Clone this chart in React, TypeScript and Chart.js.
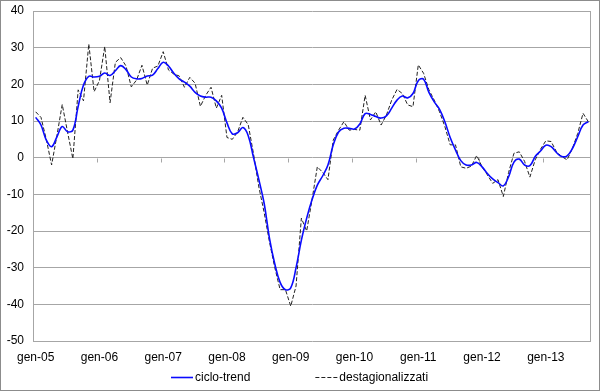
import React, { useEffect, useRef } from "react";
import { Chart, registerables } from "chart.js";

Chart.register(...registerables);

const monthNames = ["gen", "feb", "mar", "apr", "mag", "giu", "lug", "ago", "set", "ott", "nov", "dic"];
const years = ["05", "06", "07", "08", "09", "10", "11", "12", "13"];
const lastMonthOfLastYear = 8; // set-13

const categories: string[] = [];
years.forEach((y, yi) => {
  monthNames.forEach((m, mi) => {
    if (yi < years.length - 1 || mi <= lastMonthOfLastYear) categories.push(`${m}-${y}`);
  });
});

const cicloTrend = [
  11, 8.9, 4.8, 3, 5.7, 8.5, 7.1, 7.5, 14, 19.8,
  22.2, 22, 22.2, 23.1, 22.4, 23.7, 25.1, 24, 22, 21.5,
  21.6, 22.3, 22.5, 24.3, 26, 25, 23, 21.5, 20.6, 19.5,
  17.8, 16.8, 16.5, 16.5, 15.5, 13.5, 9.5, 6.5, 6.8, 8.2,
  6, 0, -6, -12.5, -22, -29, -34, -36, -35.5, -30,
  -22.5, -16.5, -11.5, -7.5, -5, -2, 3.5, 7, 8, 8,
  7.8, 9.2, 12, 11.8, 11.2, 10.8, 11.4, 13.5, 15.7, 16.8,
  16.3, 17.5, 21, 21.4, 17.8, 15.2, 13.2, 9.8, 5.5, 2.1,
  -0.8, -2, -2, -1.3, -2.5, -4.3, -5.8, -6.8, -7.7, -5.2,
  -1.2, -0.4, -2, -2.2, 0.3, 1.8, 3.4, 3, 1.4, 0.3,
  0.5, 2.5, 5.7, 8.9, 9.8,
];

const destagionalizzati = [
  12.5, 11, 5, -2, 6, 14.5, 7, -0.3, 18.5, 15.5,
  31, 18, 21, 30.3, 15, 26, 27.3, 25, 19.3, 21.2,
  25.2, 19.8, 24.4, 25, 28.9, 23.9, 22.8, 22.3, 19.2, 21.9,
  20.3, 14, 17, 19.2, 13.5, 17, 5.5, 5, 7, 11,
  9, 1, -8, -15, -23, -30, -36, -36, -40.5, -35,
  -16.5, -20, -11.5, -2.5, -4, -6, 4.8, 7.5, 9.8, 7.5,
  7.7, 7.5, 17, 10.3, 12.5, 8.9, 11.6, 15.7, 18.6, 17.5,
  14.4, 13.9, 25.3, 23, 18.5, 15.7, 12.5, 8.5, 3.5, 3.5,
  -2.5, -2.9, -2.3, 0.6, -2.5, -4.7, -7, -6, -10.6, -4,
  1.2, 1.6, -1, -5.3, -0.6, 2.3, 4.6, 4.4, 1.6, 0.3,
  -0.6, 2.5, 6.6, 12.1, 9.8,
];

const seriesNames = ["ciclo-trend", "destagionalizzati"];
const yMin = -50;
const yMax = 40;
const yStep = 10;
const tickEvery = 12;

const FONT = '"Liberation Sans", Arial, sans-serif';
const GRID = "#a6a6a6";
const BLUE = "#0a0aff";
const DASH_COLOR = "#222222";
const DASH = [4, 2];

const framePlugin = {
  id: "excelFrame",
  beforeDraw(chart: any) {
    const { ctx, width, height } = chart;
    ctx.save();
    ctx.fillStyle = "#ffffff";
    ctx.fillRect(0, 0, width, height);
    ctx.strokeStyle = "#8c8c8c";
    ctx.lineWidth = 1;
    ctx.strokeRect(0.5, 0.5, width - 1, height - 2);
    ctx.restore();
  },
  beforeDatasetsDraw(chart: any) {
    const { ctx, chartArea, scales } = chart;
    const xs = scales.x;
    const ys = scales.y;
    ctx.save();
    ctx.strokeStyle = GRID;
    ctx.lineWidth = 1;
    ctx.beginPath();
    const r = Math.round(chartArea.right) - 0.5;
    ctx.moveTo(r, chartArea.top);
    ctx.lineTo(r, chartArea.bottom);
    const y0 = Math.round(ys.getPixelForValue(0)) + 0.5;
    const half = (xs.getPixelForValue(1) - xs.getPixelForValue(0)) / 2;
    for (let i = 0; i < categories.length; i += tickEvery) {
      const px = Math.round(xs.getPixelForValue(i) - half) + 0.5;
      ctx.moveTo(px, y0);
      ctx.lineTo(px, y0 + 4);
    }
    ctx.stroke();
    ctx.restore();
  },
  afterDraw(chart: any) {
    const { ctx, width } = chart;
    const ds = chart.data.datasets;
    ctx.save();
    ctx.font = `12px ${FONT}`;
    ctx.textBaseline = "middle";
    ctx.textAlign = "left";
    const sample = 22;
    const gap = 2;
    const itemGap = 65;
    const widths = ds.map((d: any) => ctx.measureText(d.label).width);
    const total = widths.reduce((a: number, w: number) => a + sample + gap + w, 0) + itemGap * (ds.length - 1);
    let x = Math.round(width / 2 - total / 2);
    const y = 377.5;
    ds.forEach((d: any, i: number) => {
      ctx.strokeStyle = d.borderColor;
      ctx.lineWidth = d.borderWidth;
      ctx.setLineDash(d.borderDash || []);
      ctx.beginPath();
      ctx.moveTo(x, y);
      ctx.lineTo(x + sample, y);
      ctx.stroke();
      ctx.setLineDash([]);
      ctx.fillStyle = "#000";
      ctx.fillText(d.label, x + sample + gap, y);
      x += sample + gap + widths[i] + itemGap;
    });
    ctx.restore();
  },
};

export default function App() {
  const ref = useRef<HTMLCanvasElement | null>(null);

  useEffect(() => {
    if (!ref.current) return;
    const chart = new Chart(ref.current, {
      type: "line",
      data: {
        labels: categories,
        datasets: [
          {
            label: seriesNames[0],
            data: cicloTrend,
            borderColor: BLUE,
            borderWidth: 1.6,
            tension: 0.4,
            pointRadius: 0,
            fill: false,
          },
          {
            label: seriesNames[1],
            data: destagionalizzati,
            borderColor: DASH_COLOR,
            borderWidth: 1,
            borderDash: DASH,
            tension: 0,
            pointRadius: 0,
            fill: false,
          },
        ],
      },
      options: {
        responsive: false,
        animation: false,
        layout: { padding: { left: 0, right: 9, top: 11, bottom: 0 } },
        plugins: {
          legend: { display: false },
          tooltip: { enabled: false },
          title: { display: false },
        },
        scales: {
          x: {
            type: "category",
            offset: true,
            grid: { display: false, drawTicks: false },
            border: { display: false },
            ticks: {
              autoSkip: false,
              maxRotation: 0,
              minRotation: 0,
              padding: 9,
              color: "#000",
              font: { family: FONT, size: 12 },
              callback: (_v: any, idx: number) => (idx % tickEvery === 0 ? categories[idx] : ""),
            },
            afterFit: (scale: any) => {
              scale.height = 51;
              scale.paddingLeft = 0;
              scale.paddingRight = 0;
              scale.paddingTop = 0;
              scale.paddingBottom = 0;
            },
          },
          y: {
            min: yMin,
            max: yMax,
            ticks: {
              stepSize: yStep,
              padding: 9,
              color: "#000",
              font: { family: FONT, size: 12 },
            },
            grid: { color: GRID, drawTicks: false, lineWidth: 1 },
            border: { display: true, color: GRID },
            afterFit: (scale: any) => {
              scale.width = 33;
              scale.paddingTop = 0;
              scale.paddingBottom = 0;
              scale.paddingLeft = 0;
              scale.paddingRight = 0;
            },
          },
        },
      },
      plugins: [framePlugin],
    });
    return () => chart.destroy();
  }, []);

  return (
    <div style={{ position: "fixed", left: 0, top: 0, width: 600, height: 392 }}>
      <canvas ref={ref} width={600} height={392} style={{ display: "block" }} />
    </div>
  );
}
